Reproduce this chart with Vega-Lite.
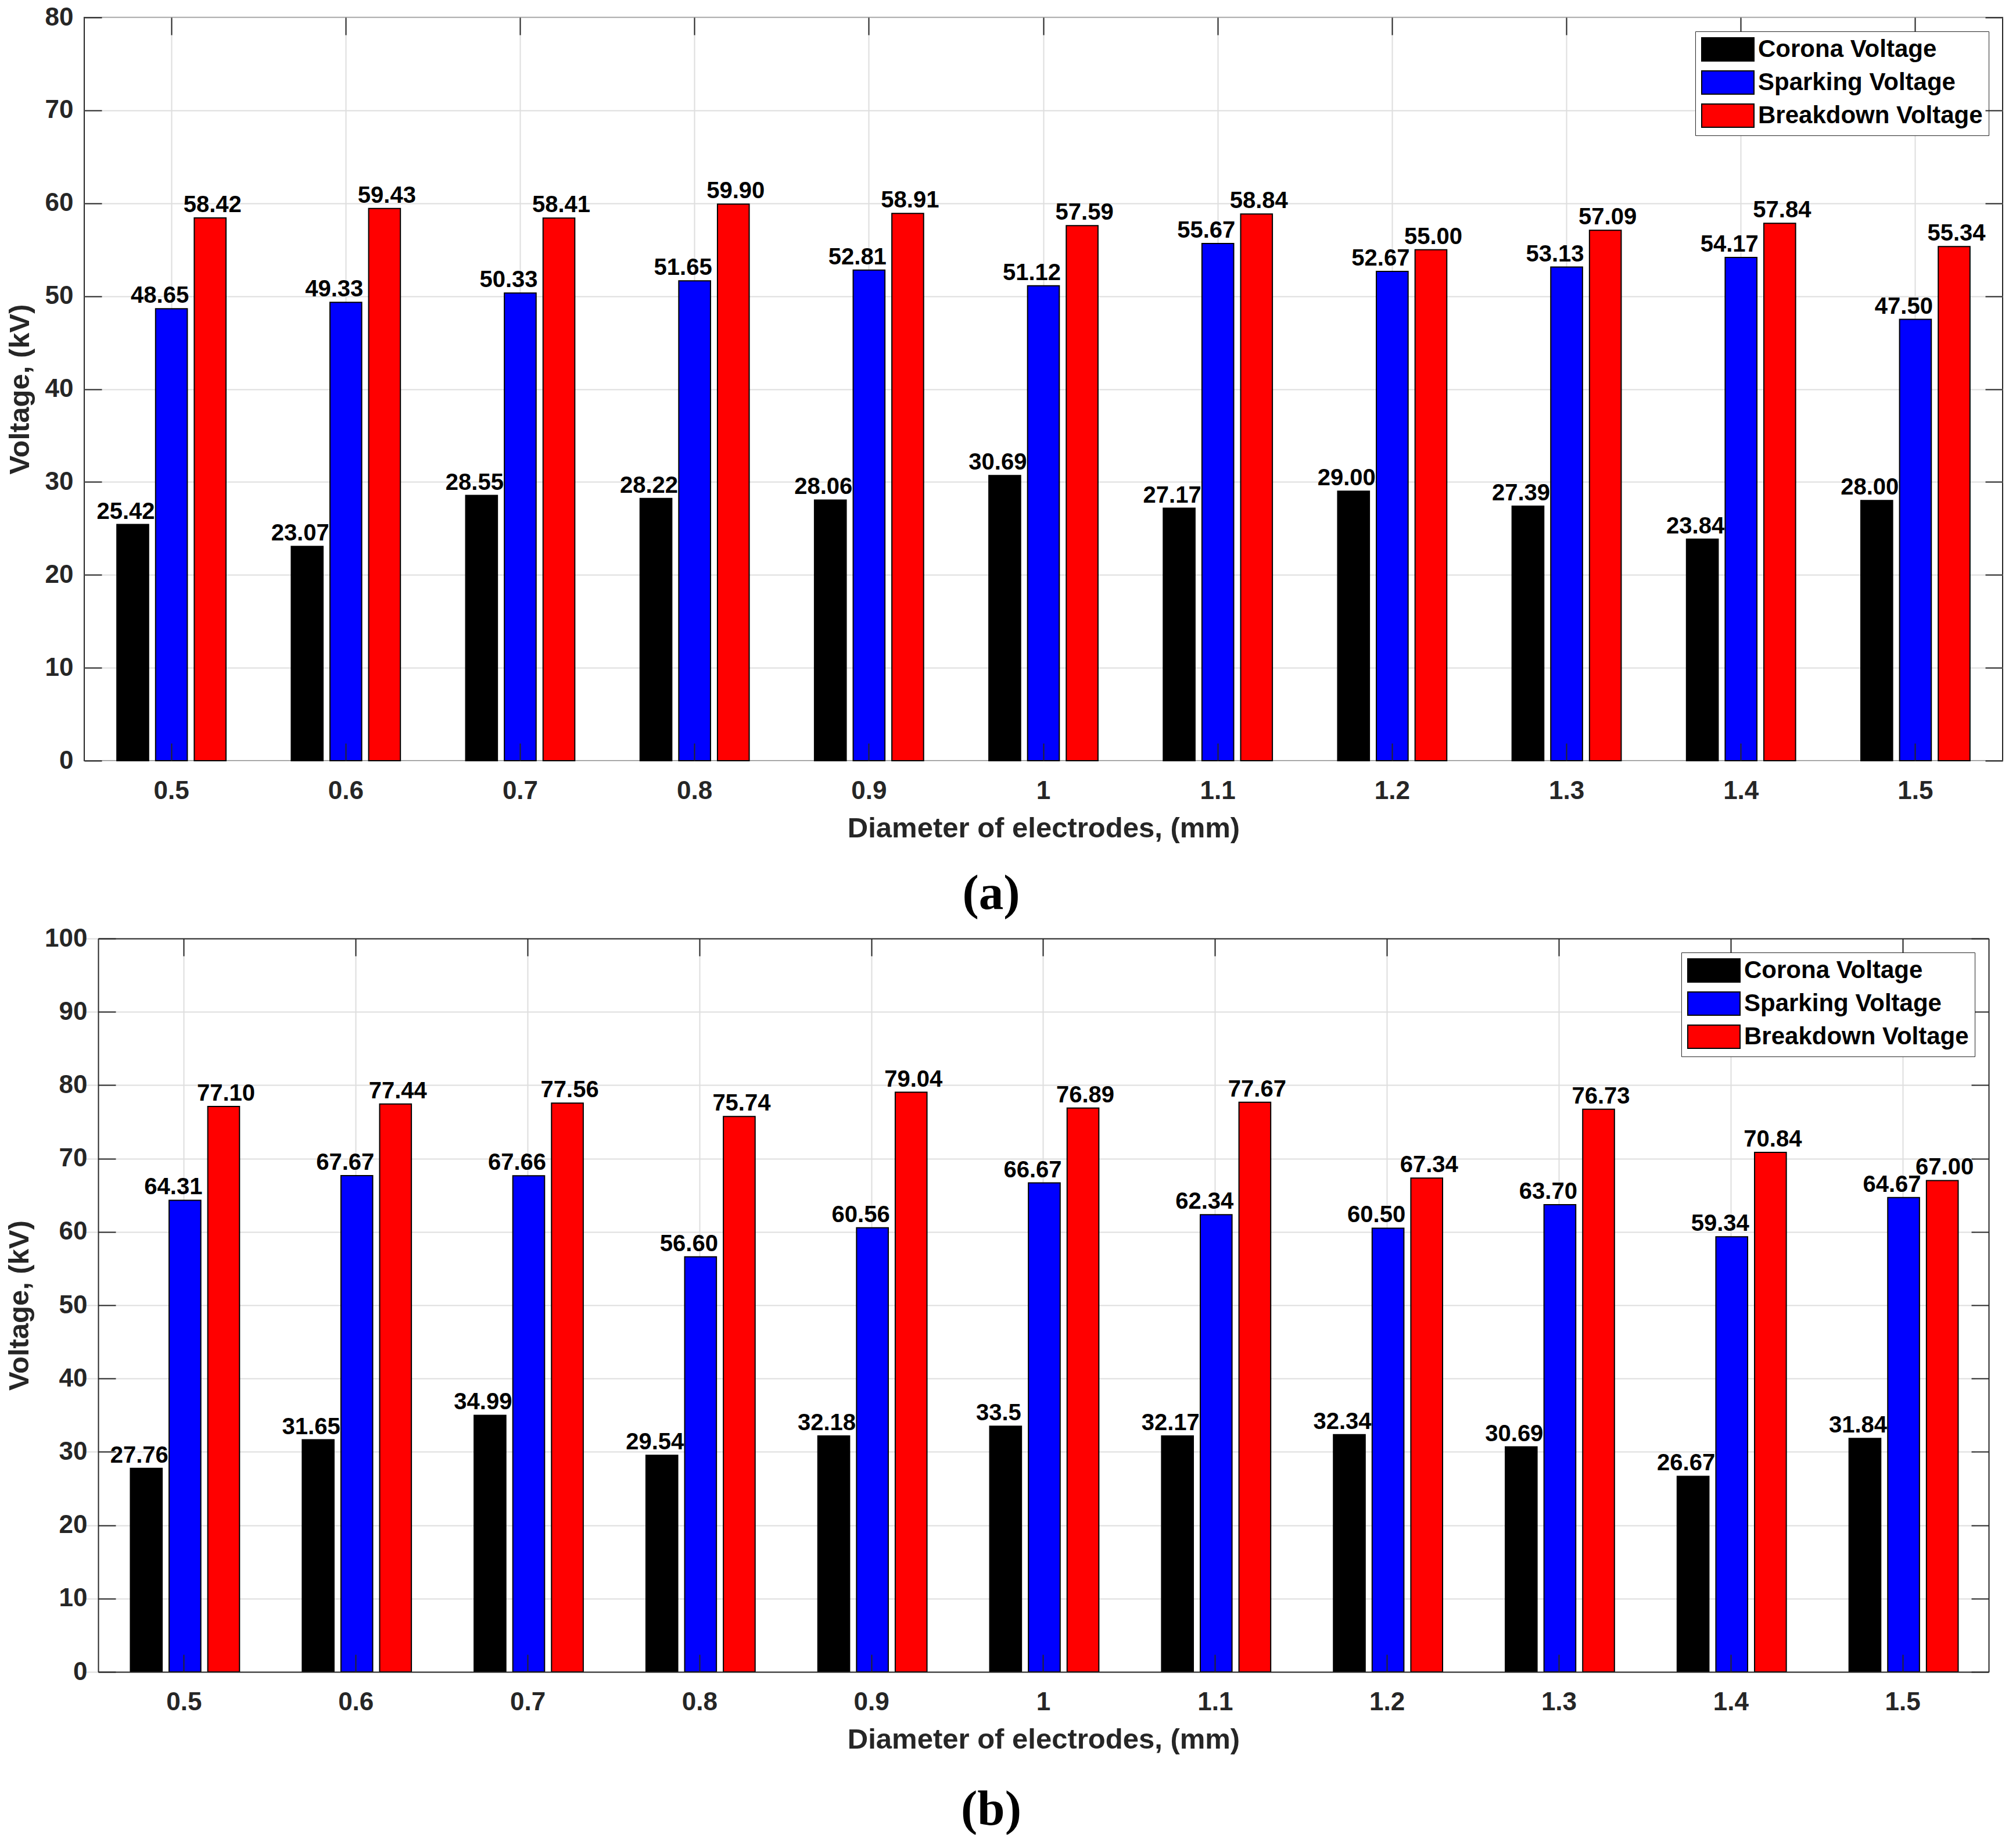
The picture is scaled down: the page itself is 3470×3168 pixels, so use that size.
{
  "$schema": "https://vega.github.io/schema/vega-lite/v6.json",
  "background": "white",
  "padding": {"left": 9, "top": 7, "right": 0, "bottom": 0},
  "config": {
    "view": {"stroke": "#262626", "strokeWidth": 2},
    "axis": {
      "labelFont": "Liberation Sans", "labelFontSize": 44, "labelFontWeight": "bold", "labelColor": "#262626",
      "titleFont": "Liberation Sans", "titleFontSize": 49, "titleFontWeight": "bold", "titleColor": "#262626",
      "domain": false, "domainColor": "#262626", "domainWidth": 2, "tickColor": "#262626", "tickWidth": 2, "tickSize": -30,
      "gridColor": "#dedede", "gridWidth": 2
    },
    "legend": {
      "symbolType": "M-1,-1L3.5,-1L3.5,1L-1,1Z", "symbolSize": 1600,
      "symbolStrokeColor": "black", "symbolStrokeWidth": 2, "symbolOpacity": 1,
      "labelFont": "Liberation Sans", "labelFontSize": 42, "labelFontWeight": "bold", "labelColor": "black",
      "labelOffset": 56, "labelLimit": 0, "rowPadding": 9, "padding": 10,
      "strokeColor": "#262626", "fillColor": "white"
    },
    "text": {"font": "Liberation Sans", "fontSize": 40, "fontWeight": "bold", "color": "black", "align": "center", "baseline": "alphabetic", "dy": -10}
  },
  "datasets": {
    "a": [
      {"d": "0.5", "s": "Corona Voltage", "v": 25.42, "t": "25.42"},
      {"d": "0.5", "s": "Sparking Voltage", "v": 48.65, "t": "48.65"},
      {"d": "0.5", "s": "Breakdown Voltage", "v": 58.42, "t": "58.42"},
      {"d": "0.6", "s": "Corona Voltage", "v": 23.07, "t": "23.07"},
      {"d": "0.6", "s": "Sparking Voltage", "v": 49.33, "t": "49.33"},
      {"d": "0.6", "s": "Breakdown Voltage", "v": 59.43, "t": "59.43"},
      {"d": "0.7", "s": "Corona Voltage", "v": 28.55, "t": "28.55"},
      {"d": "0.7", "s": "Sparking Voltage", "v": 50.33, "t": "50.33"},
      {"d": "0.7", "s": "Breakdown Voltage", "v": 58.41, "t": "58.41"},
      {"d": "0.8", "s": "Corona Voltage", "v": 28.22, "t": "28.22"},
      {"d": "0.8", "s": "Sparking Voltage", "v": 51.65, "t": "51.65"},
      {"d": "0.8", "s": "Breakdown Voltage", "v": 59.90, "t": "59.90"},
      {"d": "0.9", "s": "Corona Voltage", "v": 28.06, "t": "28.06"},
      {"d": "0.9", "s": "Sparking Voltage", "v": 52.81, "t": "52.81"},
      {"d": "0.9", "s": "Breakdown Voltage", "v": 58.91, "t": "58.91"},
      {"d": "1", "s": "Corona Voltage", "v": 30.69, "t": "30.69"},
      {"d": "1", "s": "Sparking Voltage", "v": 51.12, "t": "51.12"},
      {"d": "1", "s": "Breakdown Voltage", "v": 57.59, "t": "57.59"},
      {"d": "1.1", "s": "Corona Voltage", "v": 27.17, "t": "27.17"},
      {"d": "1.1", "s": "Sparking Voltage", "v": 55.67, "t": "55.67"},
      {"d": "1.1", "s": "Breakdown Voltage", "v": 58.84, "t": "58.84"},
      {"d": "1.2", "s": "Corona Voltage", "v": 29.00, "t": "29.00"},
      {"d": "1.2", "s": "Sparking Voltage", "v": 52.67, "t": "52.67"},
      {"d": "1.2", "s": "Breakdown Voltage", "v": 55.00, "t": "55.00"},
      {"d": "1.3", "s": "Corona Voltage", "v": 27.39, "t": "27.39"},
      {"d": "1.3", "s": "Sparking Voltage", "v": 53.13, "t": "53.13"},
      {"d": "1.3", "s": "Breakdown Voltage", "v": 57.09, "t": "57.09"},
      {"d": "1.4", "s": "Corona Voltage", "v": 23.84, "t": "23.84"},
      {"d": "1.4", "s": "Sparking Voltage", "v": 54.17, "t": "54.17"},
      {"d": "1.4", "s": "Breakdown Voltage", "v": 57.84, "t": "57.84"},
      {"d": "1.5", "s": "Corona Voltage", "v": 28.00, "t": "28.00"},
      {"d": "1.5", "s": "Sparking Voltage", "v": 47.50, "t": "47.50"},
      {"d": "1.5", "s": "Breakdown Voltage", "v": 55.34, "t": "55.34"}
    ],
    "b": [
      {"d": "0.5", "s": "Corona Voltage", "v": 27.76, "t": "27.76"},
      {"d": "0.5", "s": "Sparking Voltage", "v": 64.31, "t": "64.31"},
      {"d": "0.5", "s": "Breakdown Voltage", "v": 77.10, "t": "77.10"},
      {"d": "0.6", "s": "Corona Voltage", "v": 31.65, "t": "31.65"},
      {"d": "0.6", "s": "Sparking Voltage", "v": 67.67, "t": "67.67"},
      {"d": "0.6", "s": "Breakdown Voltage", "v": 77.44, "t": "77.44"},
      {"d": "0.7", "s": "Corona Voltage", "v": 34.99, "t": "34.99"},
      {"d": "0.7", "s": "Sparking Voltage", "v": 67.66, "t": "67.66"},
      {"d": "0.7", "s": "Breakdown Voltage", "v": 77.56, "t": "77.56"},
      {"d": "0.8", "s": "Corona Voltage", "v": 29.54, "t": "29.54"},
      {"d": "0.8", "s": "Sparking Voltage", "v": 56.60, "t": "56.60"},
      {"d": "0.8", "s": "Breakdown Voltage", "v": 75.74, "t": "75.74"},
      {"d": "0.9", "s": "Corona Voltage", "v": 32.18, "t": "32.18"},
      {"d": "0.9", "s": "Sparking Voltage", "v": 60.56, "t": "60.56"},
      {"d": "0.9", "s": "Breakdown Voltage", "v": 79.04, "t": "79.04"},
      {"d": "1", "s": "Corona Voltage", "v": 33.5, "t": "33.5"},
      {"d": "1", "s": "Sparking Voltage", "v": 66.67, "t": "66.67"},
      {"d": "1", "s": "Breakdown Voltage", "v": 76.89, "t": "76.89"},
      {"d": "1.1", "s": "Corona Voltage", "v": 32.17, "t": "32.17"},
      {"d": "1.1", "s": "Sparking Voltage", "v": 62.34, "t": "62.34"},
      {"d": "1.1", "s": "Breakdown Voltage", "v": 77.67, "t": "77.67"},
      {"d": "1.2", "s": "Corona Voltage", "v": 32.34, "t": "32.34"},
      {"d": "1.2", "s": "Sparking Voltage", "v": 60.50, "t": "60.50"},
      {"d": "1.2", "s": "Breakdown Voltage", "v": 67.34, "t": "67.34"},
      {"d": "1.3", "s": "Corona Voltage", "v": 30.69, "t": "30.69"},
      {"d": "1.3", "s": "Sparking Voltage", "v": 63.70, "t": "63.70"},
      {"d": "1.3", "s": "Breakdown Voltage", "v": 76.73, "t": "76.73"},
      {"d": "1.4", "s": "Corona Voltage", "v": 26.67, "t": "26.67"},
      {"d": "1.4", "s": "Sparking Voltage", "v": 59.34, "t": "59.34"},
      {"d": "1.4", "s": "Breakdown Voltage", "v": 70.84, "t": "70.84"},
      {"d": "1.5", "s": "Corona Voltage", "v": 31.84, "t": "31.84"},
      {"d": "1.5", "s": "Sparking Voltage", "v": 64.67, "t": "64.67"},
      {"d": "1.5", "s": "Breakdown Voltage", "v": 67.00, "t": "67.00"}
    ]
  },
  "spacing": 11,
  "resolve": {"scale": {"color": "independent"}, "legend": {"color": "independent"}},
  "vconcat": [
    {
      "width": 3302,
      "height": 1279,
      "data": {"name": "a"},
      "title": {"text": "(a)", "orient": "bottom", "frame": "group", "anchor": "middle", "dx": -90, "offset": 47, "font": "Liberation Serif", "fontSize": 85, "fontWeight": "bold", "color": "black"},
      "resolve": {"axis": {"x": "independent", "y": "independent"}},
      "layer": [
        {
          "mark": {"type": "bar", "stroke": "black", "strokeWidth": 2},
          "encoding": {
            "x": {"field": "d", "type": "nominal", "sort": ["0.5","0.6","0.7","0.8","0.9","1","1.1","1.2","1.3","1.4","1.5"], "scale": {"paddingInner": 0.33, "paddingOuter": 0.165},
                  "axis": {"title": "Diameter of electrodes, (mm)", "labelAngle": 0, "grid": false, "bandPosition": 0.5, "labelPadding": 60, "titlePadding": 18, "zindex": 1}},
            "xOffset": {"field": "s", "type": "nominal", "sort": ["Corona Voltage","Sparking Voltage","Breakdown Voltage"], "scale": {"paddingInner": 0.18, "paddingOuter": 0.1}},
            "y": {"field": "v", "type": "quantitative", "scale": {"domain": [0, 80], "nice": false},
                  "axis": {"title": "Voltage, (kV)", "values": [0,10,20,30,40,50,60,70,80], "grid": true, "labelPadding": 49, "titlePadding": 18}},
            "color": {"field": "s", "type": "nominal", "sort": ["Corona Voltage","Sparking Voltage","Breakdown Voltage"],
                      "scale": {"domain": ["Corona Voltage","Sparking Voltage","Breakdown Voltage"], "range": ["#000000","#0000ff","#ff0000"]},
                      "legend": {"title": null, "orient": "top-right", "offset": 24}}
          }
        },
        {
          "transform": [{"filter": "datum.s === 'Corona Voltage'"}],
          "mark": {"type": "text", "dx": -12},
          "encoding": {
            "x": {"field": "d", "type": "nominal", "sort": ["0.5","0.6","0.7","0.8","0.9","1","1.1","1.2","1.3","1.4","1.5"],
                  "axis": {"orient": "top", "labels": false, "title": null, "grid": true, "bandPosition": 0.5, "zindex": 0}},
            "xOffset": {"field": "s", "type": "nominal", "sort": ["Corona Voltage","Sparking Voltage","Breakdown Voltage"]},
            "y": {"field": "v", "type": "quantitative",
                  "axis": {"orient": "right", "labels": false, "title": null, "grid": false, "values": [0,10,20,30,40,50,60,70,80], "zindex": 1}},
            "text": {"field": "t"}
          }
        },
        {
          "transform": [{"filter": "datum.s === 'Sparking Voltage'"}],
          "mark": {"type": "text", "dx": -20},
          "encoding": {
            "x": {"field": "d", "type": "nominal", "sort": ["0.5","0.6","0.7","0.8","0.9","1","1.1","1.2","1.3","1.4","1.5"], "axis": null},
            "xOffset": {"field": "s", "type": "nominal", "sort": ["Corona Voltage","Sparking Voltage","Breakdown Voltage"]},
            "y": {"field": "v", "type": "quantitative", "axis": null},
            "text": {"field": "t"}
          }
        },
        {
          "transform": [{"filter": "datum.s === 'Breakdown Voltage'"}],
          "mark": {"type": "text", "dx": 4},
          "encoding": {
            "x": {"field": "d", "type": "nominal", "sort": ["0.5","0.6","0.7","0.8","0.9","1","1.1","1.2","1.3","1.4","1.5"], "axis": null},
            "xOffset": {"field": "s", "type": "nominal", "sort": ["Corona Voltage","Sparking Voltage","Breakdown Voltage"]},
            "y": {"field": "v", "type": "quantitative", "axis": null},
            "text": {"field": "t"}
          }
        }
      ]
    },
    {
      "width": 3278,
      "height": 1262,
      "data": {"name": "b"},
      "view": {"stroke": null},
      "title": {"text": "(b)", "orient": "bottom", "frame": "group", "anchor": "middle", "dx": -78, "offset": 55, "font": "Liberation Serif", "fontSize": 85, "fontWeight": "bold", "color": "black"},
      "resolve": {"axis": {"x": "independent", "y": "independent"}},
      "layer": [
        {
          "mark": {"type": "bar", "stroke": "black", "strokeWidth": 2},
          "encoding": {
            "x": {"field": "d", "type": "nominal", "sort": ["0.5","0.6","0.7","0.8","0.9","1","1.1","1.2","1.3","1.4","1.5"], "scale": {"range": [24, 3278], "paddingInner": 0.33, "paddingOuter": 0.165},
                  "axis": {"title": "Diameter of electrodes, (mm)", "labelAngle": 0, "grid": false, "domain": true, "bandPosition": 0.5, "labelPadding": 60, "titlePadding": 18, "zindex": 1}},
            "xOffset": {"field": "s", "type": "nominal", "sort": ["Corona Voltage","Sparking Voltage","Breakdown Voltage"], "scale": {"paddingInner": 0.18, "paddingOuter": 0.1}},
            "y": {"field": "v", "type": "quantitative", "scale": {"domain": [0, 100], "nice": false},
                  "axis": {"title": "Voltage, (kV)", "values": [0,10,20,30,40,50,60,70,80,90,100], "grid": false, "domain": true, "offset": -24, "labelPadding": 49, "titlePadding": 18}},
            "color": {"field": "s", "type": "nominal", "sort": ["Corona Voltage","Sparking Voltage","Breakdown Voltage"],
                      "scale": {"domain": ["Corona Voltage","Sparking Voltage","Breakdown Voltage"], "range": ["#000000","#0000ff","#ff0000"]},
                      "legend": {"title": null, "orient": "top-right", "offset": 24}}
          }
        },
        {
          "transform": [{"filter": "datum.s === 'Corona Voltage'"}],
          "mark": {"type": "text", "dx": -12},
          "encoding": {
            "x": {"field": "d", "type": "nominal", "sort": ["0.5","0.6","0.7","0.8","0.9","1","1.1","1.2","1.3","1.4","1.5"],
                  "axis": {"orient": "top", "labels": false, "title": null, "grid": true, "domain": true, "bandPosition": 0.5, "zindex": 0}},
            "xOffset": {"field": "s", "type": "nominal", "sort": ["Corona Voltage","Sparking Voltage","Breakdown Voltage"]},
            "y": {"field": "v", "type": "quantitative",
                  "axis": {"orient": "right", "labels": false, "title": null, "grid": true, "domain": true, "values": [0,10,20,30,40,50,60,70,80,90,100], "zindex": 0}},
            "text": {"field": "t"}
          }
        },
        {
          "transform": [{"filter": "datum.s === 'Sparking Voltage'"}],
          "mark": {"type": "text", "dx": -20},
          "encoding": {
            "x": {"field": "d", "type": "nominal", "sort": ["0.5","0.6","0.7","0.8","0.9","1","1.1","1.2","1.3","1.4","1.5"], "axis": null},
            "xOffset": {"field": "s", "type": "nominal", "sort": ["Corona Voltage","Sparking Voltage","Breakdown Voltage"]},
            "y": {"field": "v", "type": "quantitative", "axis": null},
            "text": {"field": "t"}
          }
        },
        {
          "transform": [{"filter": "datum.s === 'Breakdown Voltage'"}],
          "mark": {"type": "text", "dx": 4},
          "encoding": {
            "x": {"field": "d", "type": "nominal", "sort": ["0.5","0.6","0.7","0.8","0.9","1","1.1","1.2","1.3","1.4","1.5"], "axis": null},
            "xOffset": {"field": "s", "type": "nominal", "sort": ["Corona Voltage","Sparking Voltage","Breakdown Voltage"]},
            "y": {"field": "v", "type": "quantitative", "axis": null},
            "text": {"field": "t"}
          }
        }
      ]
    }
  ]
}
